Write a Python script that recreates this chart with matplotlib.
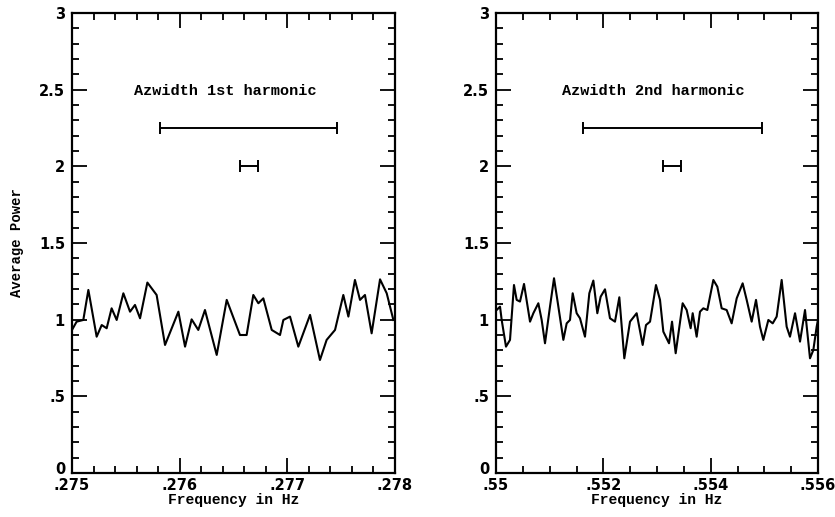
import matplotlib
matplotlib.use("Agg")
import matplotlib.pyplot as plt
import matplotlib.transforms as mtransforms
from matplotlib.ticker import MultipleLocator, FuncFormatter

# ---- data ----
f1 = [.27500, .275043, .275105, .275152, .275229, .275276, .275322, .275368, .275415,
      .275477, .275539, .275585, .275632, .275700, .275786, .275864, .275988, .276050,
      .276111, .276173, .276235, .276344, .276437, .276560, .276622, .276684, .276731,
      .276777, .276855, .276932, .276963, .277025, .277102, .277211, .277303, .277365,
      .277443, .277520, .277567, .277628, .277675, .277721, .277783, .277861, .277923,
      .277985]
p1 = [0.933, 0.987, 0.998, 1.194, 0.889, 0.965, 0.944, 1.074, 0.998,
      1.172, 1.052, 1.096, 1.009, 1.242, 1.161, 0.835, 1.052, 0.824,
      1.002, 0.933, 1.063, 0.770, 1.129, 0.900, 0.900, 1.161, 1.107,
      1.139, 0.933, 0.900, 0.998, 1.020, 0.824, 1.031, 0.737, 0.868,
      0.933, 1.161, 1.020, 1.259, 1.129, 1.161, 0.911, 1.263, 1.172,
      0.998]

f2 = [.550012, .550075, .550106, .550186, .550261, .550335, .550385, .550447, .550522,
      .550634, .550696, .550789, .550851, .550913, .551006, .551081, .551143, .551255,
      .551317, .551379, .551429, .551503, .551565, .551658, .551739, .551814, .551888,
      .551950, .552031, .552124, .552217, .552298, .552391, .552497, .552621, .552733,
      .552795, .552870, .552981, .553056, .553118, .553224, .553280, .553348, .553478,
      .553553, .553627, .553665, .553739, .553801, .553863, .553938, .554050, .554124,
      .554205, .554298, .554391, .554485, .554596, .554671, .554764, .554845, .554919,
      .554981, .555075, .555156, .555230, .555323, .555416, .555478, .555572, .555665,
      .555758, .555851, .555913, .555975, .556000]
p2 = [1.063, 1.085, 0.998, 0.824, 0.868, 1.226, 1.129, 1.118, 1.233,
      0.987, 1.042, 1.107, 0.998, 0.846, 1.085, 1.270, 1.129, 0.868,
      0.976, 0.998, 1.172, 1.042, 1.009, 0.889, 1.172, 1.255, 1.042,
      1.150, 1.198, 1.009, 0.987, 1.146, 0.748, 0.987, 1.042, 0.835,
      0.965, 0.987, 1.226, 1.129, 0.922, 0.846, 0.987, 0.781, 1.107,
      1.063, 0.944, 1.042, 0.889, 1.052, 1.074, 1.063, 1.259, 1.215,
      1.074, 1.063, 0.976, 1.139, 1.237, 1.129, 0.987, 1.129, 0.954,
      0.868, 0.998, 0.976, 1.020, 1.259, 0.954, 0.889, 1.042, 0.857,
      1.063, 0.748, 0.802, 0.954, 0.998]

titles = ["Azwidth 1st harmonic", "Azwidth 2nd harmonic"]
title_x = [0.27642, 0.55293]
title_y = 2.49
# azwidth bars: (left, right, y)
bar_big = [(0.27582, 0.27746, 2.25), (0.55163, 0.55496, 2.25)]
bar_small = [(0.27656, 0.27673, 2.0), (0.55312, 0.55345, 2.0)]
xlims = [(0.275, 0.278), (0.550, 0.556)]
xmajor = [0.001, 0.002]
xminor = [0.0002, 0.0005]

# ---- figure ----
fig = plt.figure(figsize=(8.35, 5.17), dpi=100)
axes = [fig.add_axes([72/835, 44/517, 323/835, 460/517]),
        fig.add_axes([496/835, 44/517, 322/835, 460/517])]

mono = dict(family="Liberation Mono", weight="bold")


def fmt(v, pos):
    s = ("%.4f" % v).rstrip("0").rstrip(".")
    if s.startswith("0.") and len(s) > 2:
        s = s[1:]
    if s == "":
        s = "0"
    return s


for i, ax in enumerate(axes):
    f, p = (f1, p1) if i == 0 else (f2, p2)
    ax.plot(f, p, color="black", lw=1.5, solid_joinstyle="round")
    lo, hi, y = bar_big[i]
    ax.errorbar([(lo + hi) / 2], [y], xerr=[(hi - lo) / 2], color="black",
                lw=1.4, capsize=4, capthick=1.4, fmt="none")
    lo, hi, y = bar_small[i]
    ax.errorbar([(lo + hi) / 2], [y], xerr=[(hi - lo) / 2], color="black",
                lw=1.4, capsize=4, capthick=1.4, fmt="none")
    ax.text(title_x[i], title_y, titles[i], ha="center", va="center",
            fontsize=11, **mono)
    ax.set_xlim(*xlims[i])
    ax.set_ylim(0, 3)
    ax.xaxis.set_major_locator(MultipleLocator(xmajor[i]))
    ax.xaxis.set_minor_locator(MultipleLocator(xminor[i]))
    ax.yaxis.set_major_locator(MultipleLocator(0.5))
    ax.yaxis.set_minor_locator(MultipleLocator(0.1))
    ax.xaxis.set_major_formatter(FuncFormatter(fmt))
    ax.yaxis.set_major_formatter(FuncFormatter(fmt))
    ax.tick_params(which="both", direction="in", top=True, right=True,
                   width=1.3, color="black")
    ax.tick_params(which="major", length=11)
    ax.tick_params(which="minor", length=5)
    ax.tick_params(axis="x", which="major", pad=3.5)
    ax.tick_params(axis="y", which="major", pad=5)
    for lab in ax.get_xticklabels() + ax.get_yticklabels():
        lab.set_fontweight("bold")
        lab.set_fontsize(10.5)
        lab.set_family("DejaVu Sans")
    for sp in ax.spines.values():
        sp.set_linewidth(1.6)
    ax.set_xlabel("Frequency in Hz", fontsize=10.5, labelpad=0, **mono)

# lift the "0" y tick labels slightly so they clear the x tick labels
fig.canvas.draw()
shift = mtransforms.ScaledTranslation(0, 5 / 100, fig.dpi_scale_trans)
for ax in axes:
    for tick in ax.yaxis.get_major_ticks():
        if abs(tick.get_loc()) < 1e-9:
            tick.label1.set_transform(tick.label1.get_transform() + shift)

axes[0].set_ylabel("Average Power", fontsize=10, labelpad=11, **mono)

fig.savefig("out.png", dpi=100)
